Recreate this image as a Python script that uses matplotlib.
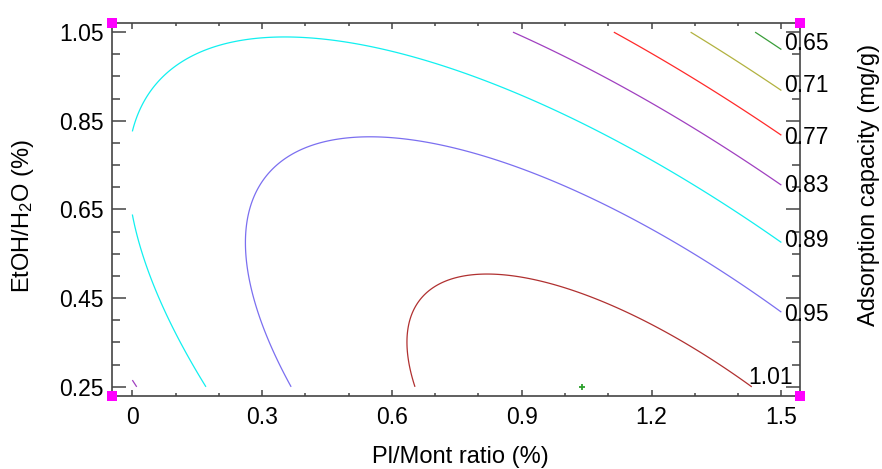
import numpy as np
import matplotlib
matplotlib.use("Agg")
import matplotlib.pyplot as plt

plt.rcParams["font.family"] = ["Liberation Sans", "DejaVu Sans"]
plt.rcParams["mathtext.default"] = "regular"

# quadratic response-surface model
# f = b0 + b1*x + b2*y + b11*x^2 + b22*y^2 + b12*x*y
B0, B1, B2 = 0.7389, 0.4966, 0.4195
B11, B22, B12 = -0.1969, -0.2864, -0.3444

X_RANGE = (0.0, 1.5)
Y_RANGE = (0.25, 1.05)

LEVELS = [0.65, 0.71, 0.77, 0.83, 0.89, 0.95, 1.01]
LEVEL_COLORS = ["#3a9e3a", "#b2b240", "#ff2a2a", "#a040c0",
                "#11f0f0", "#7b6ff0", "#b03030"]
# where the level labels sit (right edge)
LABEL_Y = [1.024, 0.929, 0.8125, 0.705, 0.581, 0.413, 0.271]

OPT_X, OPT_Y = 1.04, 0.25

XTICKS = [0, 0.3, 0.6, 0.9, 1.2, 1.5]
YTICKS = [0.25, 0.45, 0.65, 0.85, 1.05]

fig = plt.figure(figsize=(8.82, 4.69), dpi=100)
ax = fig.add_axes([0.127, 0.156, 0.780, 0.796])

xg = np.linspace(*X_RANGE, 301)
yg = np.linspace(*Y_RANGE, 241)
XX, YY = np.meshgrid(xg, yg)
ZZ = B0 + B1 * XX + B2 * YY + B11 * XX**2 + B22 * YY**2 + B12 * XX * YY

ax.contour(XX, YY, ZZ, levels=LEVELS, colors=LEVEL_COLORS, linewidths=0.9)

for lev, ly in zip(LEVELS[:-1], LABEL_Y[:-1]):
    ax.text(1.507, ly, f"{lev:.2f}", ha="left", va="center", fontsize=16.5,
            clip_on=False)
ax.text(1.527, LABEL_Y[-1], f"{LEVELS[-1]:.2f}", ha="right", va="center",
        fontsize=16.5)

ax.plot([OPT_X], [OPT_Y], marker="+", color="#2ca02c", ms=5, mew=1.3)

xmin, xmax = -0.047, 1.543
ymin, ymax = 0.2297, 1.0717
ax.set_xlim(xmin, xmax)
ax.set_ylim(ymin, ymax)

# corner markers
for cx in (xmin, xmax):
    for cy in (ymin, ymax):
        ax.plot([cx], [cy], marker="s", color="#ff00ff", ms=7, mew=0,
                clip_on=False, zorder=5)

ax.set_xticks(XTICKS)
ax.set_xticklabels(["0", "0.3", "0.6", "0.9", "1.2", "1.5"])
ax.set_xticks(np.arange(0, 1.55, 0.1), minor=True)
ax.set_yticks(YTICKS)
ax.set_yticks(np.arange(0.25, 1.06, 0.05), minor=True)

ax.tick_params(which="both", direction="in", top=True, right=True,
               labelsize=16.5, color="#444444")
ax.tick_params(axis="x", which="major", length=4.3, width=1.1, pad=7)
ax.tick_params(axis="x", which="minor", length=2.2, width=1.1)
ax.tick_params(axis="y", which="major", length=10, width=1.1, pad=6)
ax.tick_params(axis="y", which="minor", length=5.5, width=1.1)

for sp in ax.spines.values():
    sp.set_color("#444444")
    sp.set_linewidth(1.2)

fig.text(0.5215, 0.026, "Pl/Mont ratio (%)", ha="center", va="center", fontsize=17)
fig.text(0.026, 0.539, r"EtOH/H$_2$O (%)", ha="center", va="center",
         rotation=90, fontsize=17)
fig.text(0.985, 0.605, "Adsorption capacity (mg/g)", ha="center", va="center",
         rotation=90, fontsize=17)

fig.savefig("out.png", dpi=100)
